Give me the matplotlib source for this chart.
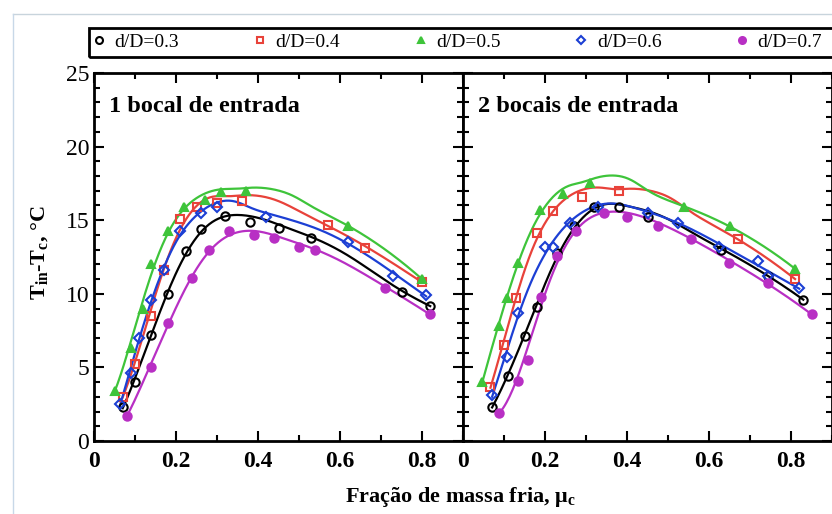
import numpy as np
import matplotlib
matplotlib.use("Agg")
import matplotlib.pyplot as plt
from matplotlib.ticker import MultipleLocator
from matplotlib.lines import Line2D
from matplotlib.patches import Rectangle

plt.rcParams['font.family'] = ['Liberation Serif', 'DejaVu Serif']
plt.rcParams['mathtext.fontset'] = 'custom'
plt.rcParams['mathtext.rm'] = 'Liberation Serif:bold'
plt.rcParams['mathtext.bf'] = 'Liberation Serif:bold'
plt.rcParams['mathtext.it'] = 'Liberation Serif:bold'

# series labels and styles
labels = ['d/D=0.3', 'd/D=0.4', 'd/D=0.5', 'd/D=0.6', 'd/D=0.7']
colors = ['#000000', '#e8423a', '#3ec43a', '#1c3fd4', '#b82fc4']
markers = ['o', 's', '^', 'D', 'o']
filled = [False, False, True, False, True]

# 1 bocal de entrada
x1_03 = [0.07, 0.10, 0.14, 0.18, 0.225, 0.26, 0.32, 0.38, 0.45, 0.53, 0.75, 0.82]
y1_03 = [2.3, 4.0, 7.2, 10.0, 12.9, 14.4, 15.3, 14.9, 14.5, 13.8, 10.1, 9.2]
x1_04 = [0.07, 0.10, 0.14, 0.17, 0.21, 0.25, 0.30, 0.36, 0.57, 0.66, 0.80]
y1_04 = [3.0, 5.2, 8.5, 11.6, 15.1, 15.9, 16.2, 16.3, 14.7, 13.1, 10.8]
x1_05 = [0.05, 0.09, 0.12, 0.14, 0.18, 0.22, 0.27, 0.31, 0.37, 0.62, 0.80]
y1_05 = [3.4, 6.3, 9.0, 12.0, 14.3, 15.9, 16.4, 16.9, 17.0, 14.6, 11.0]
x1_06 = [0.063, 0.09, 0.11, 0.14, 0.17, 0.21, 0.26, 0.30, 0.42, 0.62, 0.73, 0.81]
y1_06 = [2.5, 4.6, 7.0, 9.6, 11.6, 14.3, 15.5, 15.9, 15.2, 13.5, 11.2, 9.9]
x1_07 = [0.08, 0.14, 0.18, 0.24, 0.28, 0.33, 0.39, 0.44, 0.50, 0.54, 0.71, 0.82]
y1_07 = [1.7, 5.0, 8.0, 11.1, 13.0, 14.3, 14.0, 13.8, 13.2, 13.0, 10.4, 8.6]

# 2 bocais de entrada
x2_03 = [0.071, 0.11, 0.15, 0.18, 0.23, 0.27, 0.32, 0.38, 0.45, 0.63, 0.745, 0.83]
y2_03 = [2.3, 4.4, 7.1, 9.1, 12.75, 14.6, 15.9, 15.9, 15.2, 13.0, 11.2, 9.6]
x2_04 = [0.067, 0.10, 0.13, 0.18, 0.22, 0.29, 0.38, 0.67, 0.81]
y2_04 = [3.7, 6.5, 9.7, 14.1, 15.6, 16.6, 17.0, 13.7, 11.0]
x2_05 = [0.047, 0.087, 0.107, 0.135, 0.187, 0.243, 0.31, 0.54, 0.65, 0.81]
y2_05 = [4.0, 7.8, 9.7, 12.1, 15.7, 16.8, 17.5, 15.9, 14.6, 11.7]
x2_06 = [0.071, 0.107, 0.135, 0.20, 0.22, 0.26, 0.33, 0.45, 0.525, 0.625, 0.72, 0.745, 0.82]
y2_06 = [3.1, 5.7, 8.7, 13.2, 13.2, 14.8, 15.9, 15.5, 14.8, 13.2, 12.2, 11.2, 10.4]
x2_07 = [0.087, 0.135, 0.159, 0.19, 0.23, 0.275, 0.344, 0.40, 0.476, 0.557, 0.649, 0.745, 0.85]
y2_07 = [1.9, 4.1, 5.5, 9.8, 12.6, 14.3, 15.5, 15.2, 14.6, 13.7, 12.1, 10.7, 8.6]

panel1 = [(x1_03, y1_03), (x1_04, y1_04), (x1_05, y1_05), (x1_06, y1_06), (x1_07, y1_07)]
panel2 = [(x2_03, y2_03), (x2_04, y2_04), (x2_05, y2_05), (x2_06, y2_06), (x2_07, y2_07)]
titles = ['1 bocal de entrada', '2 bocais de entrada']


def smoothCurve(xs, ys, xf):
    # local quadratic regression (gaussian weights) through the measured points,
    # narrow window on the steep rise, wider on the slow decline
    out = []
    for x0 in xf:
        bw = 0.045 + 0.11 * x0
        w = np.exp(-0.5 * ((xs - x0) / bw) ** 2)
        coef = np.polyfit(xs - x0, ys, 2, w=np.sqrt(w))
        out.append(coef[-1])
    return np.array(out)


fig = plt.figure(figsize=(8.32, 5.14), dpi=100)
ax1 = fig.add_axes([94 / 832, 73 / 514, 369 / 832, 368 / 514])
ax2 = fig.add_axes([463 / 832, 73 / 514, 369 / 832, 368 / 514])

for ax, data, title in zip([ax1, ax2], [panel1, panel2], titles):
    for (xs, ys), c, m, f in zip(data, colors, markers, filled):
        xs = np.array(xs)
        ys = np.array(ys)
        xf = np.linspace(xs.min(), xs.max(), 200)
        ax.plot(xf, smoothCurve(xs, ys, xf), color=c, lw=1.6, zorder=2)
        ax.plot(xs, ys, ls='none', marker=m, ms=6 if m != 'D' else 5,
                mfc=c if f else 'none', mec=c, mew=1.5, zorder=3)
    ax.set_xlim(0, 0.9)
    ax.set_ylim(0, 25)
    ax.xaxis.set_minor_locator(MultipleLocator(0.1))
    ax.yaxis.set_major_locator(MultipleLocator(5))
    ax.yaxis.set_minor_locator(MultipleLocator(1))
    ax.tick_params(which='both', direction='in', top=True, right=True, width=1.5)
    ax.tick_params(which='major', length=7, labelsize=17)
    ax.tick_params(which='minor', length=4)
    ax.tick_params(axis='x', pad=7)
    for sp in ax.spines.values():
        sp.set_linewidth(2)
    ax.set_xticks([0, 0.2, 0.4, 0.6, 0.8])
    ax.set_xticklabels(['0', '0.2', '0.4', '0.6', '0.8'], fontweight='bold')
    ax.text(0.04, 0.895, title, transform=ax.transAxes, fontsize=17.5,
            fontweight='bold', va='baseline', ha='left')

ax1.set_yticks([0, 5, 10, 15, 20, 25])
ax2.tick_params(labelleft=False)

fig.text(40 / 832, 1 - 253 / 514, r'T$_\mathbf{in}$-T$_\mathbf{c}$, °C', rotation=90,
         fontsize=16, fontweight='bold', ha='center', va='center')
fig.text(460 / 832, 1 - 497 / 514, r'Fração de massa fria, μ$_\mathbf{c}$',
         fontsize=16, fontweight='bold', ha='center', va='center')

handles = [Line2D([], [], ls='none', marker=m, ms=5 if m != 'D' else 4.5,
                  mfc=c if f else 'none', mec=c, mew=1.5)
           for c, m, f in zip(colors, markers, filled)]
leg = fig.legend(handles, labels, ncol=5, loc='center left',
                 bbox_to_anchor=(91 / 832, 1 - 42 / 514),
                 borderaxespad=0, borderpad=0, fontsize=14, handlelength=0.8,
                 handletextpad=0.4, columnspacing=3.75, frameon=False)
fig.add_artist(Rectangle((89 / 832, 1 - 57 / 514), 760 / 832, 29 / 514,
                         transform=fig.transFigure, fill=False, ec='black', lw=2))

# faint border of the original picture
fig.add_artist(Line2D([13 / 832, 1], [1 - 14 / 514, 1 - 14 / 514], color='#c8d4dc', lw=1))
fig.add_artist(Line2D([13 / 832, 13 / 832], [0, 1 - 14 / 514], color='#c8d8e8', lw=1))

fig.savefig('out.png', dpi=100)
